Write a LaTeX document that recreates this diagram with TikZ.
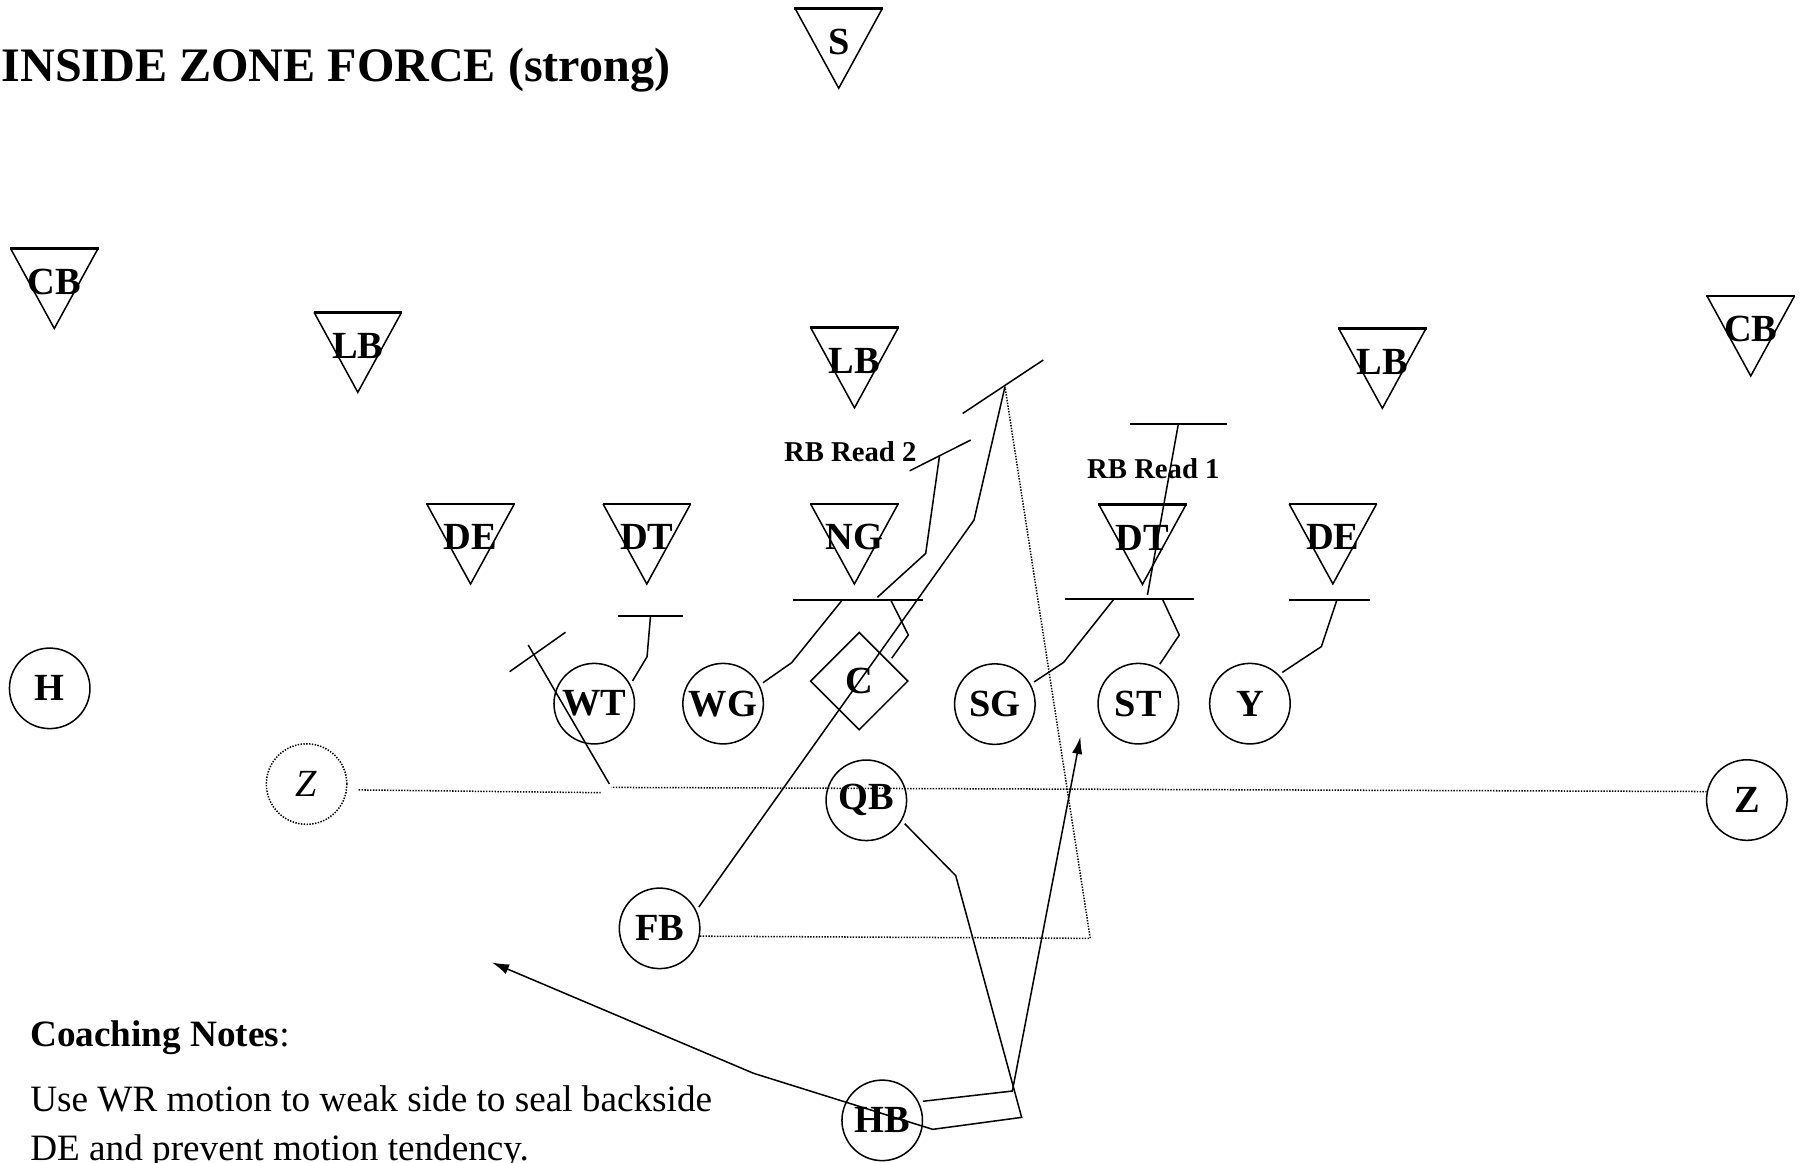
\documentclass[tikz,border=0pt]{standalone}
\usepackage{fontspec}
\setmainfont{Liberation Serif}
\usetikzlibrary{shapes.geometric,arrows.meta}
\begin{document}
\begin{tikzpicture}[x=0.02cm, y=-0.02cm,
		pnode/.style = {shape = circle,
		                draw,
		                line width=0.75pt,
		                inner sep=0pt,
		                minimum size = 1.4cm,
		                font=\fontsize{19}{19}\selectfont\bfseries},
		dlabel/.style = {inner sep=0pt, font=\fontsize{19}{19}\selectfont\bfseries},
		readtext/.style = {inner sep=0pt, font=\fontsize{14.2}{14.2}\selectfont\bfseries},
		route/.style = {line width=0.75pt, line join=miter, shorten <=2pt},
		bar/.style = {line width=1.1pt},
		motion/.style = {line width=0.75pt, dash pattern=on 0.7pt off 0.7pt}]
		\useasboundingbox (0,0) rectangle (1568,1010);

		% title
		\node[anchor=base west, inner sep=0pt, font=\fontsize{23.8}{24}\selectfont\bfseries] (title) at (1,71) {INSIDE ZONE FORCE (strong)};

		% defense
		\foreach \x/\y/\t/\n in {729/7.2/S/S, 47.2/216/CB/CBw, 311/271.5/LB/LBw, 742.7/285/LB/LBm,
		                         1201.5/285.4/LB/LBs, 1521.7/257.3/CB/CBs, 409/438.1/DE/DEw,
		                         562.2/438.1/DT/DTw, 742.6/438.1/NG/NG, 993/438.4/DT/DTs, 1158.5/438/DE/DEs}{
			\draw[line width=0.75pt] (\x-38,\y) -- (\x,\y+69.5) -- (\x+38,\y);
			\draw[line width=1.4pt] (\x-38.5,\y) -- (\x+38.5,\y);
			\node[dlabel] (\n) at (\x,\y+29) {\t};
		}

		% offense
		\node[pnode] (H) at (43.2,598.3) {H};
		\node[pnode] (WT) at (516.5,611.6) {WT};
		\node[pnode] (WG) at (628.5,611.6) {WG};
		\node[shape=diamond, draw, line width=0.75pt, inner sep=0pt, minimum size=1.7cm,
		      font=\fontsize{19}{19}\selectfont\bfseries] (C) at (746.8,592) {C};
		\node[pnode] (SG) at (864.7,612) {SG};
		\node[pnode] (ST) at (989.4,611.6) {ST};
		\node[pnode] (Y) at (1086.4,611.6) {Y};
		\node[pnode] (QB) at (753,695.6) {QB};
		\node[pnode, motion, font=\fontsize{19}{19}\selectfont\itshape] (Zl) at (266.5,681.5) {Z};
		\node[pnode] (Zr) at (1518.3,695.4) {Z};
		\node[pnode] (FB) at (573.3,806.9) {FB};
		\node[pnode] (HB) at (766.8,973.8) {HB};

		% reads
		\node[readtext] (read2) at (739,393) {RB Read 2};
		\node[readtext] (read1) at (1002.5,407) {RB Read 1};

		% blocks
		\draw[route] (WT.28) -- (562.4,570.8) -- (565.4,535.4);
		\draw[bar] (537.4,535.4) -- (593.8,535.4);
		\draw[route] (WG.27) -- (688.1,576) -- (732.1,521.5);
		\draw[bar] (689.5,521.5) -- (802.5,521.5);
		\draw[route] (C.33) -- (789.5,551.9) -- (774.2,521.5);
		\draw[route] (760,521.5) -- (804.6,481) -- (816.5,396.9);
		\draw[route] (787.5,410.8) -- (843.7,382.5);
		\draw[route] (SG.29) -- (924.5,575.7) -- (968.3,520.6);
		\draw[bar] (925.7,520.6) -- (1038.1,520.6);
		\draw[route] (ST.62) -- (1025,552) -- (1010.3,520.6);
		\draw[route] (996.7,520.6) -- (1024.2,368.5);
		\draw[bar] (982.2,368.5) -- (1066.8,368.5);
		\draw[route] (Y.45) -- (1148.5,562) -- (1162,521.6);
		\draw[bar] (1120.5,521.6) -- (1190.5,521.6);

		% motion
		\draw[motion, shorten <=0.2cm] (Zl.-8) -- (522,689);
		\draw[motion] (Zr.168) -- (531.4,684.4);
		\draw[route] (531.4,684.4) -- (459.1,560.6);
		\draw[route] (440.1,585.8) -- (491.5,549.6);

		% backs
		\draw[route] (FB.26) -- (846.6,452) -- (873.5,336.1);
		\draw[route] (833.8,361.3) -- (906.8,312.9);
		\draw[motion] (FB.-11) -- (947.6,815.6) -- (873.5,336.1);
		\draw[route, -{Latex[length=0.3cm, width=0.18cm]}] (QB.-30) -- (830.7,761.1) -- (888,971.2)
			-- (810.7,981.6) -- (655,932.9) -- (427.5,836.5);
		\draw[route, -{Latex[length=0.3cm, width=0.18cm]}] (HB.27) -- (879.9,948.3) -- (939.1,640.3);

		% notes
		\node[anchor=base west, inner sep=0pt, font=\fontsize{18.4}{18.4}\selectfont] (notes) at (26,909.8) {\textbf{Coaching Notes}:};
		\node[anchor=base west, inner sep=0pt, align=left, font=\fontsize{18.4}{24.4}\selectfont] (notetext) at (26,1009)
			{Use WR motion to weak side to seal backside\\DE and prevent motion tendency.};
	\end{tikzpicture}
\end{document}
